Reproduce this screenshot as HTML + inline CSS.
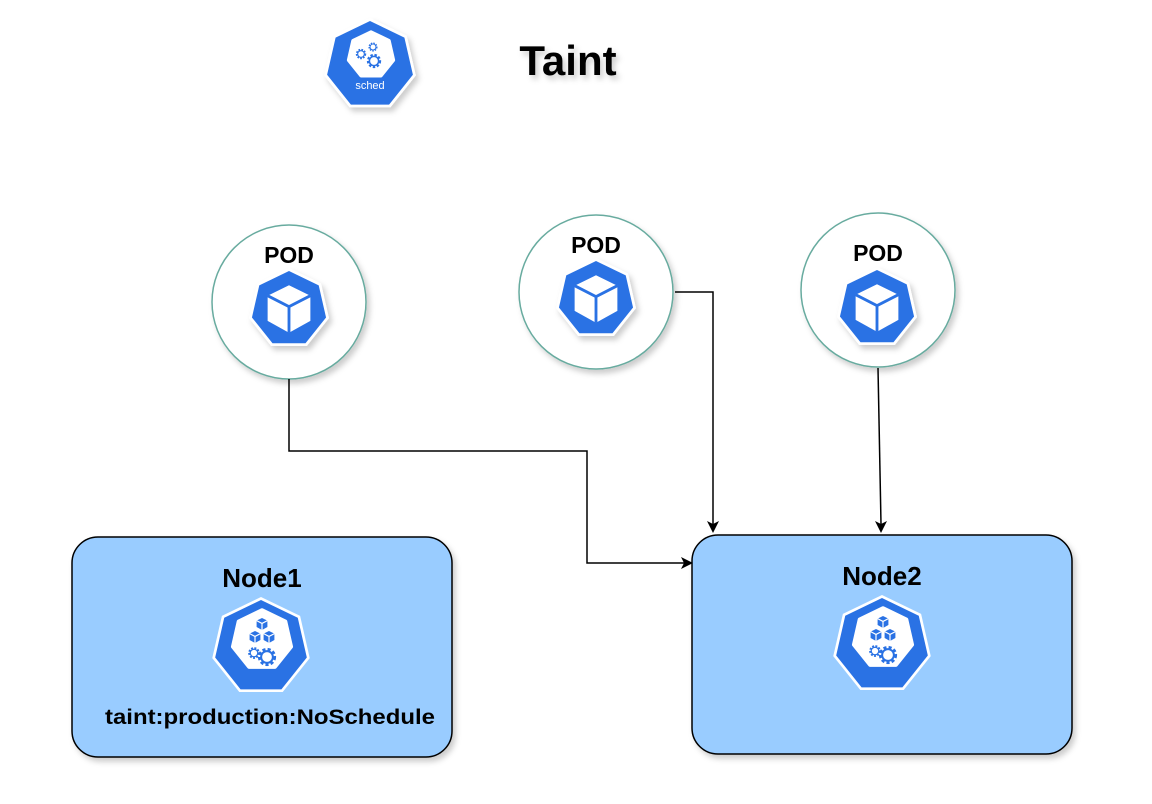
<!DOCTYPE html>
<html><head><meta charset="utf-8"><style>
html,body{margin:0;padding:0;background:#fff;}
svg{display:block;font-family:"Liberation Sans",Arial,sans-serif;}
</style></head><body>
<svg width="1152" height="804" viewBox="0 0 1152 804" xmlns="http://www.w3.org/2000/svg">
<defs>
<polygon id="hep" points="0,-1 0.782,-0.623 0.975,0.223 0.434,0.901 -0.434,0.901 -0.975,0.223 -0.782,-0.623"/>
<filter id="sh" x="-30%" y="-30%" width="160%" height="160%"><feDropShadow dx="3" dy="4" stdDeviation="3" flood-color="#000" flood-opacity="0.2"/></filter>
<g id="cube">
<polygon points="0,-0.5 0.45,-0.28 0.45,0.25 0,0.5 -0.45,0.25 -0.45,-0.28" fill="#fff"/>
<polyline points="-0.45,-0.28 0,-0.05 0.45,-0.28" fill="none" stroke="#2a72e4" stroke-width="0.06"/>
<line x1="0" y1="-0.05" x2="0" y2="0.5" stroke="#2a72e4" stroke-width="0.06"/>
</g>
<g id="bcube">
<polygon points="0,-0.5 0.45,-0.28 0.45,0.25 0,0.5 -0.45,0.25 -0.45,-0.28" fill="#2a72e4"/>
<polyline points="-0.45,-0.28 0,-0.05 0.45,-0.28" fill="none" stroke="#fff" stroke-width="0.1"/>
<line x1="0" y1="-0.05" x2="0" y2="0.5" stroke="#fff" stroke-width="0.1"/>
</g>
<g id="gear">
<circle r="0.5" fill="none" stroke="#2a72e4" stroke-width="0.3" stroke-dasharray="0.2 0.14"/>
<circle r="0.42" fill="#fff" stroke="#2a72e4" stroke-width="0.14"/>
</g>
</defs>

<!-- sched -->
<g filter="url(#sh)">
<g transform="translate(370,65) scale(47)"><use href="#hep" fill="#fff"/></g>
<g transform="translate(370,65) scale(44)"><use href="#hep" fill="#2a72e4"/></g>
</g>
<g transform="translate(371,55) scale(23)"><use href="#hep" fill="#fff" stroke="#fff" stroke-width="0.15" stroke-linejoin="round"/></g>
<g transform="translate(361,54) scale(8)"><use href="#gear"/></g>
<g transform="translate(373,47) scale(7)"><use href="#gear"/></g>
<g transform="translate(374,61) scale(11)"><use href="#gear"/></g>
<text x="370" y="89" font-size="11" fill="#fff" text-anchor="middle">sched</text>

<text x="568" y="75" font-size="42" font-weight="bold" text-anchor="middle" filter="url(#sh)">Taint</text>

<!-- pods -->
<g fill="#fff" stroke="#67ab9f" stroke-width="1.5" filter="url(#sh)">
<circle cx="289" cy="302" r="77"/>
<circle cx="596" cy="292" r="77"/>
<circle cx="878" cy="290" r="77"/>
</g>
<g font-size="23" font-weight="bold" text-anchor="middle">
<text x="289" y="263">POD</text>
<text x="596" y="253">POD</text>
<text x="878" y="261">POD</text>
</g>
<g filter="url(#sh)">
<g transform="translate(289,309) scale(41)"><use href="#hep" fill="#fff"/></g>
<g transform="translate(596,299) scale(41)"><use href="#hep" fill="#fff"/></g>
<g transform="translate(877,308) scale(41)"><use href="#hep" fill="#fff"/></g>
</g>
<g transform="translate(289,309) scale(38)"><use href="#hep" fill="#2a72e4"/><g transform="scale(1.25)"><use href="#cube"/></g></g>
<g transform="translate(596,299) scale(38)"><use href="#hep" fill="#2a72e4"/><g transform="scale(1.25)"><use href="#cube"/></g></g>
<g transform="translate(877,308) scale(38)"><use href="#hep" fill="#2a72e4"/><g transform="scale(1.25)"><use href="#cube"/></g></g>

<!-- connectors -->
<g fill="none" stroke="#000" stroke-width="1.5">
<polyline points="289,379 289,451 587,451 587,563 686,563"/>
<polyline points="675,292 713,292 713,524"/>
<line x1="878" y1="368" x2="881" y2="524"/>
</g>
<g fill="#000">
<polygon points="693,563 681,557 684,563 681,569"/>
<polygon points="713,533 707,521 713,524 719,521"/>
<polygon points="881,533 875,521 881,524 887,521"/>
</g>

<!-- nodes -->
<g fill="#99ccff" stroke="#000" stroke-width="1.5" filter="url(#sh)">
<rect x="72" y="537" width="380" height="220" rx="26"/>
<rect x="692" y="535" width="380" height="219" rx="26"/>
</g>
<g font-size="26" font-weight="bold" text-anchor="middle">
<text x="262" y="587">Node1</text>
<text x="882" y="585">Node2</text>
</g>
<text x="270" y="724" font-size="21" font-weight="bold" text-anchor="middle" textLength="330" lengthAdjust="spacingAndGlyphs">taint:production:NoSchedule</text>

<g>
<g transform="translate(261,647) scale(50)"><use href="#hep" fill="#fff"/></g>
<g transform="translate(261,647) scale(47)"><use href="#hep" fill="#2a72e4"/></g>
<g transform="translate(262,640) scale(30)"><use href="#hep" fill="#fff" stroke="#fff" stroke-width="0.12" stroke-linejoin="round"/></g>
<g transform="translate(262,624) scale(12)"><use href="#bcube"/></g>
<g transform="translate(255,637) scale(12)"><use href="#bcube"/></g>
<g transform="translate(269,637) scale(12)"><use href="#bcube"/></g>
<g transform="translate(254,653) scale(9)"><use href="#gear"/></g>
<g transform="translate(267,657) scale(14)"><use href="#gear"/></g>
</g>
<g>
<g transform="translate(882,645) scale(50)"><use href="#hep" fill="#fff"/></g>
<g transform="translate(882,645) scale(47)"><use href="#hep" fill="#2a72e4"/></g>
<g transform="translate(883,638) scale(30)"><use href="#hep" fill="#fff" stroke="#fff" stroke-width="0.12" stroke-linejoin="round"/></g>
<g transform="translate(883,622) scale(12)"><use href="#bcube"/></g>
<g transform="translate(876,635) scale(12)"><use href="#bcube"/></g>
<g transform="translate(890,635) scale(12)"><use href="#bcube"/></g>
<g transform="translate(875,651) scale(9)"><use href="#gear"/></g>
<g transform="translate(888,655) scale(14)"><use href="#gear"/></g>
</g>
</svg>
</body></html>
